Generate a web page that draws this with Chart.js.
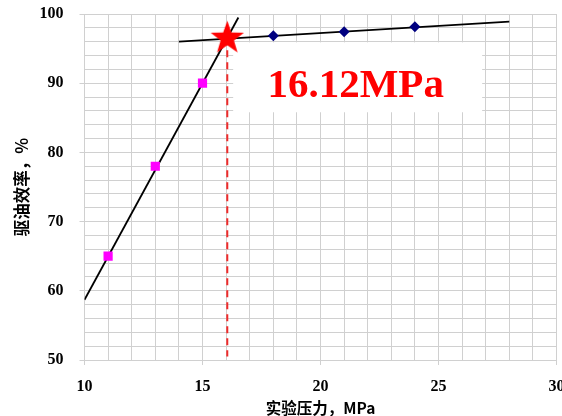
<!DOCTYPE html>
<html>
<head>
<meta charset="utf-8">
<script src="https://cdn.jsdelivr.net/npm/chart.js@4/dist/chart.umd.min.js"></script>
<style>
  html, body { margin: 0; padding: 0; background: #fff; overflow: hidden; }
  canvas { display: block; }
</style>
</head>
<body>
<canvas id="effChart" width="562" height="416"></canvas>
<script>
const pressureLow = [11, 13, 15];
const efficiencyLow = [65, 78, 90];
const pressureHigh = [18, 21, 24];
const efficiencyHigh = [96.85, 97.45, 98.15];

// hand-drawn trend lines (end points)
const trendLowX = [10, 16.52];
const trendLowY = [58.7, 99.5];
const trendHighX = [14, 28];
const trendHighY = [96.0, 98.9];

// break point (star + dashed drop line)
const breakX = 16.05;
const breakY = 96.5;
const breakLabel = '16.12MPa';

const xTitle = '实验压力，MPa';
const yTitle = '驱油效率，%';

const pts = (xs, ys) => xs.map((x, i) => ({ x: x, y: ys[i] }));

// red five-point star used as point style
function makeStar(R) {
    const c = document.createElement('canvas');
    const s = Math.ceil(R * 2 + 2);
    c.width = s; c.height = s;
    const g = c.getContext('2d');
    const cx = s / 2, cy = s / 2, r = R * 0.4;
    g.beginPath();
    for (let i = 0; i < 10; i++) {
        const a = -Math.PI / 2 + i * Math.PI / 5;
        const rr = i % 2 === 0 ? R : r;
        g.lineTo(cx + rr * Math.cos(a), cy + rr * Math.sin(a));
    }
    g.closePath();
    g.fillStyle = '#ff0000';
    g.fill();
    return c;
}
const starImg = makeStar(17.5);

// white label box with the break pressure
const labelBox = {
    id: 'labelBox',
    beforeDatasetsDraw(chart) {
        const { ctx, scales: { x, y } } = chart;
        const left = x.getPixelForValue(16.3), right = x.getPixelForValue(26.85);
        const top = y.getPixelForValue(95.9), bottom = y.getPixelForValue(85.8);
        ctx.save();
        ctx.fillStyle = '#ffffff';
        ctx.fillRect(left, top, right - left, bottom - top);
        ctx.fillStyle = '#ff0000';
        ctx.font = 'bold 41px "Liberation Serif", serif';
        ctx.textAlign = 'center';
        ctx.textBaseline = 'alphabetic';
        ctx.fillText(breakLabel, (left + right) / 2 - 2, top + 55);
        ctx.restore();
    }
};

// keep the plot area fixed, no extra room for edge labels
const noPad = s => { s.paddingLeft = 0; s.paddingRight = 0; s.paddingTop = 0; s.paddingBottom = 0; };

const gridColor = '#d0d0d0';
const tickFont = { family: '"Liberation Serif", serif', size: 16, weight: 'bold' };
const xTitleFont = { family: '"Noto Sans CJK SC", sans-serif', size: 15.5, weight: 'bold' };
const yTitleFont = { family: '"Noto Sans CJK SC", sans-serif', size: 16.5, weight: 'bold' };

const ctx = document.getElementById('effChart').getContext('2d');
const effChart = new Chart(ctx, {
    type: 'scatter',
    data: {
        datasets: [
            {
                label: 'low',
                data: pts(pressureLow, efficiencyLow),
                pointStyle: 'rect',
                pointRadius: 6.5,
                backgroundColor: '#ff00ff',
                borderWidth: 0,
                order: 1
            },
            {
                label: 'high',
                data: pts(pressureHigh, efficiencyHigh),
                pointStyle: 'rectRot',
                pointRadius: 5.5,
                backgroundColor: '#000080',
                borderColor: '#000080',
                borderWidth: 0,
                order: 1
            },
            {
                label: 'trendLow',
                data: pts(trendLowX, trendLowY),
                showLine: true,
                borderColor: '#000000',
                borderWidth: 1.8,
                pointRadius: 0,
                order: 3
            },
            {
                label: 'trendHigh',
                data: pts(trendHighX, trendHighY),
                showLine: true,
                borderColor: '#000000',
                borderWidth: 1.8,
                pointRadius: 0,
                order: 3
            },
            {
                label: 'drop',
                data: [{ x: breakX, y: breakY }, { x: breakX, y: 50.5 }],
                showLine: true,
                borderColor: '#ee2a2a',
                borderWidth: 2,
                borderDash: [7, 5],
                pointRadius: 0,
                order: 4
            },
            {
                label: 'break',
                data: [{ x: breakX, y: breakY }],
                pointStyle: starImg,
                pointRadius: 17,
                order: 0
            }
        ]
    },
    options: {
        responsive: false,
        animation: false,
        events: [],
        layout: { autoPadding: false, padding: { left: 0, right: 5.5, top: 14, bottom: 0 } },
        plugins: { legend: { display: false }, tooltip: { enabled: false } },
        scales: {
            x: {
                type: 'linear',
                min: 10, max: 30,
                afterFit: s => { s.height = 56; noPad(s); },
                grid: {
                    color: gridColor,
                    tickLength: 5,
                    tickColor: c => (c.tick && c.tick.value % 5 === 0) ? gridColor : 'rgba(0,0,0,0)'
                },
                border: { color: gridColor },
                ticks: {
                    stepSize: 1,
                    autoSkip: false,
                    maxRotation: 0,
                    padding: 12,
                    color: '#000',
                    font: tickFont,
                    callback: v => v % 5 === 0 ? v : ''
                },
                title: { display: true, text: xTitle, color: '#000', font: xTitleFont, padding: { top: 0, bottom: -1 } }
            },
            y: {
                min: 50, max: 100,
                afterFit: s => { s.width = 84.5; noPad(s); },
                grid: {
                    color: gridColor,
                    tickLength: 5,
                    tickColor: c => (c.tick && c.tick.value % 10 === 0) ? gridColor : 'rgba(0,0,0,0)'
                },
                border: { color: gridColor },
                ticks: {
                    stepSize: 2,
                    autoSkip: false,
                    padding: 16,
                    color: '#000',
                    font: tickFont,
                    callback: v => v % 10 === 0 ? v : ''
                },
                title: { display: true, text: yTitle, color: '#000', font: yTitleFont, padding: { top: 12, bottom: 0 } }
            }
        }
    },
    plugins: [labelBox]
});
</script>
</body>
</html>
